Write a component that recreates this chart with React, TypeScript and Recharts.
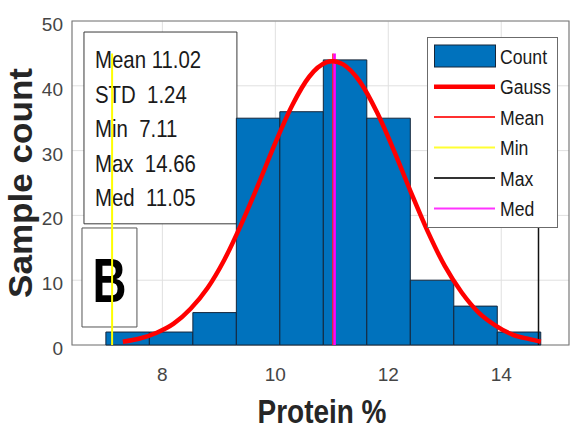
import {
  ComposedChart,
  Line,
  XAxis,
  YAxis,
  CartesianGrid,
  ReferenceArea,
  ReferenceLine,
} from 'recharts'

// Histogram bins (protein %) and sample counts per bin
const binEdges = [7.0, 7.77, 8.54, 9.31, 10.08, 10.85, 11.62, 12.39, 13.16, 13.93, 14.7]
const binCounts = [2, 2, 5, 35, 36, 44, 35, 10, 6, 2]

// Fitted normal curve, scaled to counts
const gaussX = [7.3, 7.6, 7.9, 8.2, 8.5, 8.8, 9.1, 9.4, 9.7, 10.0, 10.3, 10.6, 10.9, 11.02, 11.2, 11.5, 11.8, 12.1, 12.4, 12.7, 13.0, 13.3, 13.6, 13.9, 14.2, 14.5, 14.7]
const gaussY = [0.5, 1.0, 1.9, 3.3, 5.6, 8.8, 13.2, 18.7, 24.8, 31.2, 37.0, 41.4, 43.6, 43.8, 43.3, 40.6, 35.9, 30.0, 23.6, 17.5, 12.2, 8.1, 5.0, 3.0, 1.6, 0.9, 0.5]

// Summary statistics
const statNames = ['Mean', 'STD', 'Min', 'Max', 'Med']
const statValues = [11.02, 1.24, 7.11, 14.66, 11.05]

const xTicks = [8, 10, 12, 14]
const yTicks = [0, 10, 20, 30, 40, 50]

const legendNames = ['Count', 'Gauss', 'Mean', 'Min', 'Max', 'Med']

const FONT = '"Liberation Sans", Arial, Helvetica, sans-serif'
const BAR_FILL = '#0072BD'
const BAR_EDGE = '#15263a'

const gaussData = gaussX.map((x, i) => ({ x, y: gaussY[i] }))
const stat = (name: string) => statValues[statNames.indexOf(name)]
const markerTop = Math.max(...binCounts) + 1

const markers = [
  { name: 'Mean', color: '#ff2020', width: 1.5 },
  { name: 'Min', color: '#ffff00', width: 2 },
  { name: 'Max', color: '#111111', width: 1.5 },
  { name: 'Med', color: '#ff00ff', width: 2.5 },
]

function XTick(props: any) {
  const { x, y, payload } = props
  return (
    <text x={x} y={y + 15} textAnchor="middle" fontFamily={FONT} fontSize={19} fill="#454545">
      {payload.value}
    </text>
  )
}

function YTick(props: any) {
  const { x, y, payload } = props
  return (
    <text x={x} y={y + 10} textAnchor="end" fontFamily={FONT} fontSize={19} fill="#454545">
      {payload.value}
    </text>
  )
}

function statsBox(props: any) {
  const { x, y } = props.viewBox
  return (
    <g>
      {statNames.map((name, i) => (
        <text
          key={name}
          transform={`translate(${x + 11}, ${y + 36 + i * 34.5}) scale(0.85, 1)`}
          fontFamily={FONT}
          fontSize={24}
          fill="#1a1a1a"
          style={{ whiteSpace: 'pre' }}
        >
          {name + (name === 'Mean' ? ' ' : '  ') + statValues[i].toFixed(2)}
        </text>
      ))}
    </g>
  )
}

function panelLetter(props: any) {
  const { x, y, width } = props.viewBox
  return (
    <text
      x={x + width / 2}
      y={y + 74}
      textAnchor="middle"
      fontFamily={FONT}
      fontWeight="bold"
      fontSize={63}
      textLength={34}
      lengthAdjust="spacingAndGlyphs"
      fill="#000"
    >
      B
    </text>
  )
}

function Legend() {
  const rowY = [56, 86.7, 117, 147.5, 178, 208.5]
  const lineStyle: Record<string, { color: string; width: number }> = {
    Gauss: { color: '#ff0000', width: 4.5 },
    Mean: { color: '#ff3030', width: 2 },
    Min: { color: '#ffff33', width: 2 },
    Max: { color: '#333333', width: 2 },
    Med: { color: '#ff33ff', width: 2 },
  }
  return (
    <svg
      width={576}
      height={430}
      style={{ position: 'absolute', left: 0, top: 0, pointerEvents: 'none' }}
    >
      <rect x={427.5} y={37.5} width={130} height={190} fill="#fff" stroke="#6b6b6b" />
      {legendNames.map((name, i) => (
        <g key={name}>
          {name === 'Count' ? (
            <rect x={434.5} y={rowY[i] - 11} width={61} height={22} fill={BAR_FILL} stroke={BAR_EDGE} />
          ) : (
            <line
              x1={434}
              x2={495}
              y1={rowY[i]}
              y2={rowY[i]}
              stroke={lineStyle[name].color}
              strokeWidth={lineStyle[name].width}
            />
          )}
          <text
            transform={`translate(500, ${rowY[i] + 7.5}) scale(0.84, 1)`}
            fontFamily={FONT}
            fontSize={21}
            fill="#1a1a1a"
          >
            {name}
          </text>
        </g>
      ))}
    </svg>
  )
}

export default function App() {
  return (
    <div style={{ position: 'absolute', left: 0, top: 0, width: 576, height: 430, background: '#fff' }}>
      <ComposedChart
        width={576}
        height={430}
        data={gaussData}
        margin={{ top: 21, right: 7, bottom: 55, left: 12 }}
      >
        <CartesianGrid stroke="#e0e0e0" horizontalValues={yTicks} verticalValues={xTicks} />
        <XAxis
          type="number"
          dataKey="x"
          domain={[6.4, 15.2]}
          ticks={xTicks}
          allowDataOverflow
          axisLine={false}
          tickLine={false}
          tickSize={0}
          tickMargin={21}
          height={30}
          tick={<XTick />}
          label={{
            content: (p: any) => (
              <text
                x={322}
                y={p.viewBox.y + 78}
                textAnchor="middle"
                fontFamily={FONT}
                fontWeight="bold"
                fontSize={34}
                textLength={129}
                lengthAdjust="spacingAndGlyphs"
                fill="#262626"
              >
                Protein %
              </text>
            ),
          }}
        />
        <YAxis
          type="number"
          domain={[0, 50]}
          ticks={yTicks}
          allowDataOverflow
          axisLine={false}
          tickLine={false}
          tickSize={0}
          tickMargin={9}
          width={60}
          tick={<YTick />}
          label={{
            content: () => (
              <text
                transform="translate(32, 183) rotate(-90)"
                textAnchor="middle"
                fontFamily={FONT}
                fontWeight="bold"
                fontSize={34}
                textLength={230}
                lengthAdjust="spacingAndGlyphs"
                fill="#262626"
              >
                Sample count
              </text>
            ),
          }}
        />

        {/* axes box */}
        <ReferenceArea x1={6.4} x2={15.2} y1={0} y2={50} fill="none" stroke="#7a7a7a" strokeWidth={1.2} />

        {/* statistics text box and panel letter */}
        <ReferenceArea
          x1={6.612}
          x2={9.32}
          y1={18.7}
          y2={48.3}
          fill="#fff"
          fillOpacity={1}
          stroke="#3a3a3a"
          label={statsBox}
        />
        <ReferenceArea
          x1={6.577}
          x2={7.55}
          y1={2.78}
          y2={18.06}
          fill="#fff"
          fillOpacity={1}
          stroke="#555"
          label={panelLetter}
        />

        {binCounts.map((count, i) => (
          <ReferenceArea
            key={i}
            x1={binEdges[i]}
            x2={binEdges[i + 1]}
            y1={0}
            y2={count}
            fill={BAR_FILL}
            fillOpacity={1}
            stroke={BAR_EDGE}
            strokeWidth={1}
          />
        ))}

        {markers.map((m) => (
          <ReferenceLine
            key={m.name}
            segment={[
              { x: stat(m.name), y: 0 },
              { x: stat(m.name), y: markerTop },
            ]}
            stroke={m.color}
            strokeWidth={m.width}
          />
        ))}

        <Line
          type="monotone"
          dataKey="y"
          stroke="#ff0000"
          strokeWidth={4.5}
          dot={false}
          isAnimationActive={false}
        />
      </ComposedChart>
      <Legend />
    </div>
  )
}
